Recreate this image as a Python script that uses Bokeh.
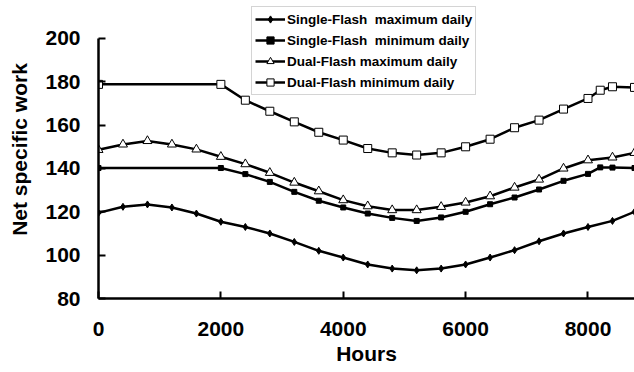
from bokeh.plotting import figure
from bokeh.models import Legend, LegendItem, Range1d, FixedTicker
from bokeh.embed import file_html
from bokeh.resources import INLINE

# Hours (x) per series
hours_full = [0, 400, 800, 1200, 1600, 2000, 2400, 2800, 3200, 3600, 4000, 4400,
              4800, 5200, 5600, 6000, 6400, 6800, 7200, 7600, 8000, 8400, 8760]
hours_min = [0, 2000, 2400, 2800, 3200, 3600, 4000, 4400, 4800, 5200, 5600,
             6000, 6400, 6800, 7200, 7600, 8000, 8200, 8400, 8760]

single_max = [119.5, 122.3, 123.4, 122.0, 119.2, 115.4, 113.0, 110.0, 106.1, 102.0,
              98.9, 95.7, 93.8, 93.0, 93.8, 95.7, 98.9, 102.3, 106.4, 110.0, 113.0,
              115.8, 120.0]
single_min = [140.2, 140.2, 137.4, 133.8, 129.2, 125.1, 122.0, 119.2, 117.2, 115.8,
              117.4, 120.0, 123.5, 126.6, 130.3, 134.3, 137.5, 140.5, 140.4, 140.2]
dual_max = [148.6, 151.1, 152.7, 151.1, 148.8, 145.4, 142.0, 138.0, 133.5, 129.5,
            125.4, 122.6, 120.8, 120.8, 122.3, 124.3, 127.2, 131.2, 134.9, 140.0,
            143.8, 145.1, 147.2]
dual_min = [178.8, 178.8, 171.5, 166.4, 161.5, 156.7, 153.1, 149.2, 147.2, 146.2,
            147.2, 150.0, 153.5, 158.8, 162.3, 167.4, 172.3, 176.1, 177.7, 177.4]

labels = ["Single-Flash  maximum daily", "Single-Flash  minimum daily",
          "Dual-Flash maximum daily", "Dual-Flash minimum daily"]

x_ticks = [0, 2000, 4000, 6000, 8000]
y_ticks = [80, 100, 120, 140, 160, 180, 200]

FONT = "Liberation Sans"

p = figure(width=634, height=372, output_backend="svg", toolbar_location=None,
           x_range=Range1d(0, 8760), y_range=Range1d(80, 217.5),
           min_border_left=98, min_border_right=0, min_border_top=0,
           min_border_bottom=74)
p.outline_line_color = None
p.grid.visible = False
p.background_fill_color = "white"
p.border_fill_color = "white"

series = [
    (hours_full, single_max, "diamond", 7, "black"),
    (hours_min, single_min, "square", 5, "black"),
    (hours_full, dual_max, "triangle", 9, "white"),
    (hours_min, dual_min, "square", 8, "white"),
]

items = []
for (xs, ys, marker, size, fill), lab in zip(series, labels):
    ln = p.line(xs, ys, line_color="black", line_width=2.5)
    sc = p.scatter(xs, ys, marker=marker, size=size, fill_color=fill,
                   line_color="black", line_width=1)
    items.append(LegendItem(label=lab, renderers=[ln, sc]))

legend = Legend(items=items, location=(153, 203), orientation="vertical",
                label_text_font=FONT, label_text_font_style="bold",
                label_text_font_size="13.5px", label_text_color="black",
                glyph_width=30, glyph_height=18, label_height=18,
                label_standoff=2, spacing=3, padding=3, margin=0,
                border_line_color="#aaaaaa", border_line_width=1,
                background_fill_color="white", background_fill_alpha=1)
p.add_layout(legend, "center")

for ax in (p.xaxis[0], p.yaxis[0]):
    ax.axis_line_width = 2.5
    ax.axis_line_color = "black"
    ax.major_tick_line_width = 2
    ax.major_tick_line_color = "black"
    ax.major_tick_in = 7
    ax.major_tick_out = 0
    ax.minor_tick_line_color = None
    ax.major_label_text_font = FONT
    ax.major_label_text_font_style = "bold"
    ax.major_label_text_font_size = "21px"
    ax.major_label_text_color = "black"
    ax.axis_label_text_font = FONT
    ax.axis_label_text_font_style = "bold"
    ax.axis_label_text_font_size = "21px"
    ax.axis_label_text_color = "black"

p.xaxis[0].ticker = FixedTicker(ticks=x_ticks)
p.yaxis[0].ticker = FixedTicker(ticks=y_ticks)
p.yaxis[0].bounds = (80, 200)
p.xaxis[0].axis_label = "Hours"
p.yaxis[0].axis_label = "Net specific work"
p.xaxis[0].major_label_standoff = 23
p.xaxis[0].axis_label_standoff = 3
p.yaxis[0].major_label_standoff = 18
p.yaxis[0].axis_label_standoff = 11

open("out.html", "w").write(file_html(p, INLINE))
